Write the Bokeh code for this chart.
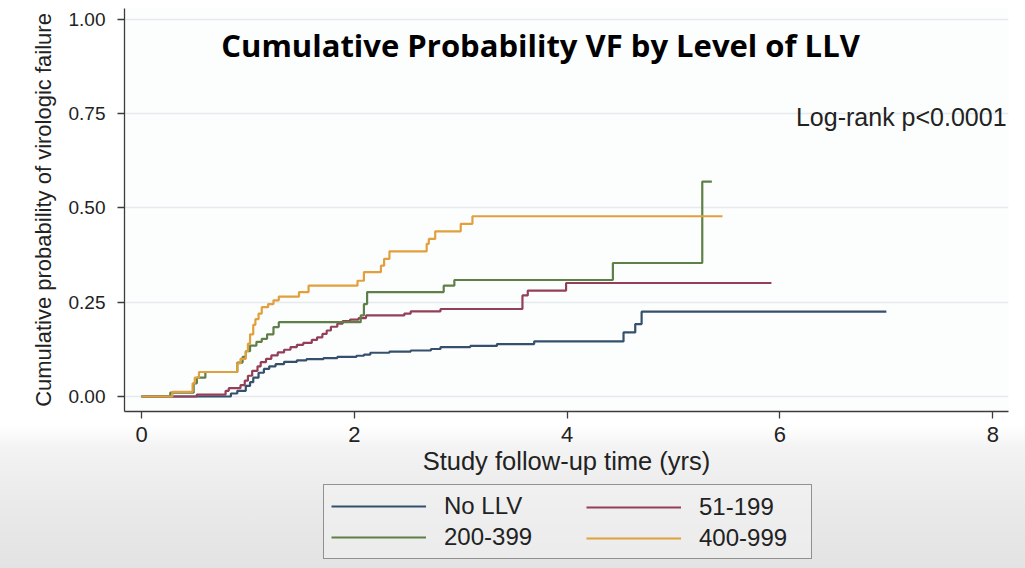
from bokeh.plotting import figure
from bokeh.layouts import column
from bokeh.models import (Range1d, FixedTicker, NumeralTickFormatter, Label,
                          Legend, LegendItem)
from bokeh.embed import file_html
from bokeh.resources import INLINE

# ---------------- data ----------------
groups = ["No LLV", "51-199", "200-399", "400-999"]
colors = ["#34506d", "#933f57", "#5f7f48", "#e2a03c"]

t_no_llv = [0, 0.84, 0.90, 0.98, 1.02, 1.05, 1.10, 1.15, 1.20, 1.26, 1.34, 1.46, 1.55,
            1.71, 1.84, 2.02, 2.09, 2.15, 2.33, 2.53, 2.72, 2.81, 3.09, 3.34, 3.69,
            4.53, 4.64, 4.70, 7.00]
p_no_llv = [0, 0.008, 0.015, 0.028, 0.038, 0.050, 0.063, 0.073, 0.080, 0.086, 0.092,
            0.096, 0.099, 0.102, 0.105, 0.108, 0.111, 0.116, 0.119, 0.122, 0.126,
            0.131, 0.134, 0.139, 0.146, 0.170, 0.192, 0.225, 0.225]

t_51_199 = [0, 0.52, 0.79, 0.82, 0.93, 0.97, 1.00, 1.04, 1.09, 1.12, 1.17, 1.22, 1.28,
            1.34, 1.40, 1.46, 1.52, 1.60, 1.65, 1.70, 1.74, 1.78, 1.84, 1.89, 1.96,
            2.04, 2.11, 2.47, 2.53, 2.81, 3.58, 3.63, 3.99, 5.92]
p_51_199 = [0, 0.005, 0.015, 0.022, 0.030, 0.042, 0.055, 0.068, 0.080, 0.091, 0.100,
            0.109, 0.117, 0.124, 0.131, 0.137, 0.142, 0.150, 0.157, 0.166, 0.175,
            0.185, 0.193, 0.200, 0.204, 0.208, 0.215, 0.220, 0.226, 0.232, 0.268,
            0.281, 0.301, 0.301]

t_200_399 = [0, 0.27, 0.49, 0.52, 0.60, 0.90, 0.95, 0.98, 1.02, 1.08, 1.13, 1.18, 1.24,
             1.29, 2.06, 2.09, 2.12, 2.84, 2.94, 4.43, 5.27, 5.36]
p_200_399 = [0, 0.010, 0.035, 0.050, 0.065, 0.090, 0.105, 0.120, 0.135, 0.145, 0.153,
             0.165, 0.184, 0.197, 0.215, 0.245, 0.277, 0.294, 0.309, 0.354, 0.570, 0.570]

t_400_999 = [0, 0.29, 0.48, 0.50, 0.54, 0.90, 0.93, 0.98, 1.00, 1.02, 1.05, 1.07, 1.10,
             1.13, 1.19, 1.24, 1.29, 1.48, 1.57, 2.03, 2.09, 2.25, 2.28, 2.33, 2.68,
             2.70, 2.76, 3.00, 3.11, 5.46]
p_400_999 = [0, 0.012, 0.035, 0.050, 0.065, 0.088, 0.100, 0.120, 0.140, 0.165, 0.190,
             0.205, 0.220, 0.237, 0.245, 0.255, 0.265, 0.277, 0.294, 0.307, 0.330,
             0.347, 0.365, 0.385, 0.405, 0.418, 0.438, 0.458, 0.478, 0.478]

x_ticks = [0, 2, 4, 6, 8]
y_ticks = [0, 0.25, 0.5, 0.75, 1.0]

title_text = "Cumulative Probability VF by Level of LLV"
note_text = "Log-rank p<0.0001"
x_label = "Study follow-up time (yrs)"
y_label = "Cumulative probability of virologic failure"

series_t = [t_no_llv, t_51_199, t_200_399, t_400_999]
series_p = [p_no_llv, p_51_199, p_200_399, p_400_999]

# ---------------- main figure ----------------
X0, X1 = -0.16, 8.148
Y0, Y1 = -0.0398, 1.029
p = figure(width=1025, height=482, output_backend="svg", toolbar_location=None,
           x_range=Range1d(X0, X1), y_range=Range1d(Y0, Y1),
           min_border_left=124, min_border_right=17, min_border_top=8,
           min_border_bottom=71)
p.outline_line_color = None
p.background_fill_color = "#fcfdfd"
p.border_fill_alpha = 0

axis_color = "#3c3c3c"
p.xaxis.ticker = FixedTicker(ticks=x_ticks)
p.yaxis.ticker = FixedTicker(ticks=y_ticks)
p.yaxis.formatter = NumeralTickFormatter(format="0.00")
for ax in (p.xaxis[0], p.yaxis[0]):
    ax.axis_line_color = axis_color
    ax.axis_line_width = 1.3
    ax.major_tick_line_color = axis_color
    ax.major_tick_line_width = 1.3
    ax.major_tick_in = 0
    ax.major_tick_out = 7
    ax.minor_tick_line_color = None
    ax.major_label_text_font = "Liberation Sans"
    ax.major_label_text_color = "#222222"
    ax.axis_label_text_font = "Liberation Sans"
    ax.axis_label_text_font_style = "normal"
    ax.axis_label_text_color = "#222222"
p.yaxis.major_label_text_font_size = "19px"
p.yaxis.major_label_standoff = 12
p.yaxis.axis_label = y_label
p.yaxis.axis_label_text_font_size = "22px"
p.yaxis.axis_label_standoff = 10
p.xaxis.major_label_text_font_size = "22px"
p.xaxis.major_label_standoff = 8
p.xaxis.axis_label = x_label
p.xaxis.axis_label_text_font_size = "25.5px"
p.xaxis.axis_label_standoff = 2

p.xgrid.grid_line_color = None
p.ygrid.ticker = FixedTicker(ticks=y_ticks)
p.ygrid.grid_line_color = "#e4ebee"
p.ygrid.grid_line_width = 1.5

for t, pv, c in zip(series_t, series_p, colors):
    p.step(t, pv, mode="after", line_color=c, line_width=2.2)

p.add_layout(Label(x=(540 - 141) / 106.4, y=(396 - 45) / 377, text=title_text,
                   text_align="center", text_baseline="middle", text_font="Open Sans",
                   text_font_style="bold", text_font_size="31px", text_color="black"))
p.add_layout(Label(x=(1006 - 141) / 106.4, y=(396 - 117) / 377, text=note_text,
                   text_align="right", text_baseline="middle", text_font="Liberation Sans",
                   text_font_size="25px", text_color="#222222"))

# ---------------- legend strip (frame aligned with the main frame) ----------------
q = figure(width=1025, height=86, output_backend="svg", toolbar_location=None,
           x_axis_type=None, y_axis_type=None, x_range=Range1d(0, 1),
           y_range=Range1d(5, 6), min_border=0)
q.outline_line_color = None
q.xgrid.grid_line_color = None
q.ygrid.grid_line_color = None
q.background_fill_alpha = 0
q.border_fill_alpha = 0
leg_r = []
for t, pv, c in zip(series_t, series_p, colors):
    # same series, outside this strip's visible range: only used as legend keys
    leg_r.append(q.step(t, pv, mode="after", line_color=c, line_width=2))

common = dict(orientation="vertical", glyph_width=95, glyph_height=20, label_standoff=18,
              label_text_font="Liberation Sans", label_text_font_size="24px",
              label_text_color="#222222", padding=7, spacing=3, margin=0,
              label_width=360, border_line_color="#333333", border_line_width=1.5,
              background_fill_color="#f3f3f3")
leg1 = Legend(items=[LegendItem(label=groups[0], renderers=[leg_r[0]]),
                     LegendItem(label=groups[2], renderers=[leg_r[2]])],
              location=(199, 9), background_fill_alpha=0.5, **common)
leg2 = Legend(items=[LegendItem(label=groups[1], renderers=[leg_r[1]]),
                     LegendItem(label=groups[3], renderers=[leg_r[3]])],
              location=(455, 9), background_fill_alpha=0, border_line_alpha=0, **common)
q.add_layout(leg1, "center")
q.add_layout(leg2, "center")

layout = column(p, q, spacing=0,
                styles={"background": "linear-gradient(180deg, #ffffff 0px, #ffffff 425px, "
                                      "#f3f3f3 448px, #e9e9e9 510px, #e3e3e3 568px)"})

open("out.html", "w").write(file_html(layout, INLINE))
